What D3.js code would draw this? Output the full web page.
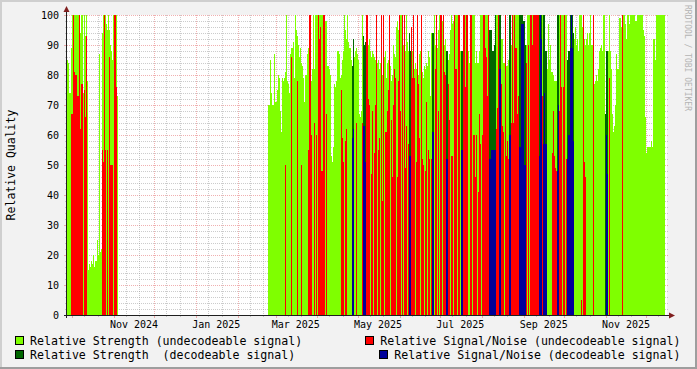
<!DOCTYPE html>
<html><head><meta charset="utf-8">
<script src="https://cdn.jsdelivr.net/npm/d3@7"></script>
<style>
html,body{margin:0;padding:0;background:#f2f2f2;overflow:hidden;}
svg{display:block;}
text{font-family:"DejaVu Sans Mono",monospace;}
</style></head><body>
<svg id="chart" width="697" height="369"></svg>
<script>
const n = null;
// ---- time base (RRD consolidation step ~ 17.8 h) ----
const tStart = Date.UTC(2024, 8, 27, 6, 43);
const tEnd = tStart + 445.13 * 864e5;
const stepMs = (tEnd - tStart) / 600;

// ---- burst A (autumn 2024), all undecodeable ----
const startA = tStart;
const strengthA = [85,84,74,74,89,100,100,100,100,100,100,100,100,94,100,100,74,100,93,100,78,15,17,16,18,17,20,16,18,18,25,20,87,21,22,94,100,100,100,97,95,100,95,90,88,85,100,100,100,100,73];
const snrA = [n,n,n,n,67,67,100,81,80,80,73,73,100,62,77,77,n,75,66,93,n,n,n,n,n,n,n,n,n,n,n,n,n,n,n,55,51,100,55,n,55,n,86,50,50,50,n,100,100,76,n];

// ---- burst B (2025) ----
const startB = tStart + 201 * stepMs;
const strengthB = [
70,70,85,74,70,70,87,71,71,75,80,79,68,61,79,78,79,81,100,78,77,74,87,89,89,91,79,100,95,93,90,86,89,84,83,79,71,80,80,87,
89,100,100,78,82,100,82,100,100,100,100,100,100,100,100,100,100,98,98,83,83,82,80,53,51,56,77,76,78,88,88,87,79,80,85,88,100,95,92,100,
91,89,89,85,83,92,86,88,89,87,85,67,66,68,100,93,90,91,100,100,90,92,88,86,88,87,86,85,84,84,85,82,84,83,80,90,86,88,79,84,
85,82,83,78,80,90,87,86,96,98,95,100,100,100,100,90,92,88,100,91,88,94,88,96,88,86,82,84,82,80,80,87,88,86,81,79,83,82,84,83,
88,86,73,94,94,94,100,90,88,89,95,100,100,100,98,100,90,92,88,88,85,87,95,100,97,98,100,100,100,100,100,100,88,88,88,100,100,100,100,100,
88,84,100,100,100,100,100,84,88,84,84,88,100,100,100,100,100,100,100,100,100,95,95,95,88,88,90,100,100,100,100,100,100,92,92,84,84,84,83,83,
85,100,100,90,100,100,100,100,100,100,100,100,100,100,100,98,98,90,90,100,100,100,100,100,100,100,100,100,100,100,100,100,100,100,100,100,100,88,88,82,
97,85,90,81,81,80,78,78,78,100,100,100,100,100,100,100,100,100,100,85,88,88,100,100,100,94,92,96,90,92,88,100,100,100,96,90,92,90,92,94,
90,94,100,90,90,84,77,78,80,78,82,88,89,90,88,100,100,67,88,88,88,100,88,82,67,61,63,70,87,82,82,99,99,96,95,100,100,97,92,100,
100,97,100,100,100,100,100,98,98,100,100,100,100,100,100,95,93,66,54,56,56,56,56,58,56,92,92,85,100,100,100,100,100,100,100,100,100];
const snrB = [
n,n,n,n,n,n,n,n,n,n,n,n,n,n,n,n,n,50,n,n,n,n,n,86,n,n,n,n,n,78,n,n,n,50,n,n,n,n,n,n,
55,100,100,60,n,n,64,n,60,n,100,92,96,48,48,100,100,n,67,n,n,n,n,n,n,n,n,n,n,n,n,n,n,75,59,51,n,58,62,n,
n,n,n,n,59,62,n,n,64,n,n,n,n,n,64,63,63,51,100,100,72,70,n,47,68,n,54,70,100,n,55,59,n,100,38,100,n,61,61,68,
75,100,n,65,46,70,82,79,n,46,78,100,68,n,100,n,100,49,63,n,57,53,53,96,79,100,79,n,51,100,77,59,n,100,52,50,n,48,71,n,
55,52,n,52,61,61,n,82,100,n,68,n,100,100,n,100,81,80,52,52,77,65,n,53,53,n,100,82,82,n,100,100,n,55,55,100,100,76,100,100,
n,n,100,100,n,60,60,46,60,n,41,67,57,n,60,100,100,89,86,73,100,52,52,55,55,55,55,55,62,69,100,82,82,77,63,61,n,100,53,58,
52,60,60,64,100,64,100,89,89,67,73,56,56,97,97,97,50,50,84,n,90,n,100,100,90,100,100,100,100,100,100,53,100,92,73,57,74,57,57,n,
n,n,n,n,54,68,53,49,48,48,70,68,100,76,n,76,100,n,52,52,60,60,89,100,89,58,n,n,n,n,n,n,n,5,n,100,51,46,n,n,
n,n,n,n,n,100,n,n,n,n,n,n,n,n,n,n,n,n,60,47,n,79,n,n,n,n,n,n,n,n,n,n,n,n,100,n,n,n,n,n,
n,n,n,n,n,n,n,n,n,n,n,n,n,n,n,n,n,n,n,n,n,n,n,n,n,n,n,n,n,n,n,n,n,n,n,n,n,n,n];
// sample offsets (within burst B) where the signal was decodeable
const decodedB = [84,85,95,96,97,141,142,164,165,178,179,193,194,221,222,223,224,225,226,227,231,232,241,242,251,252,253,254,255,256,257,271,272,273,275,276,277,278,289,290,299,300,301,302,303,304,305,337,338,339];

const yTicks = [0,10,20,30,40,50,60,70,80,90,100];
const xTickFmt = "%b %Y";
const legendItems = [
  {label:"Relative Strength (undecodeable signal)", color:"#7fff00"},
  {label:"Relative Signal/Noise (undecodeable signal)", color:"#ff0000"},
  {label:"Relative Strength  (decodeable signal)", color:"#006600"},
  {label:"Relative Signal/Noise (decodeable signal)", color:"#000099"}
];
const colors = {su:"#7fff00", nu:"#ff0000", sd:"#006600", nd:"#000099"};

// ---- geometry ----
const W = 697, H = 369, X0 = 67, X1 = 667, Y0 = 315, Y1 = 15;
const svg = d3.select("#chart");
const x = d3.scaleUtc().domain([tStart, tEnd]).range([X0, X1]);
const y = d3.scaleLinear().domain([0, 100]).range([Y0, Y1]);

svg.append("rect").attr("width", W).attr("height", H).attr("fill", "#f2f2f2");
svg.append("rect").attr("x", X0).attr("y", Y1).attr("width", X1 - X0).attr("height", Y0 - Y1).attr("fill", "#ffffff");

function samples(start, S, N, dec) {
  const dset = new Set(dec || []);
  return S.map((s, i) => ({t: start + i * stepMs, s, nv: N[i], d: dset.has(i)}));
}
const data = samples(startA, strengthA, snrA).concat(samples(startB, strengthB, snrB, decodedB));

// ---- grid (behind the data) ----
const grid = svg.append("g").attr("shape-rendering", "crispEdges");
const minorCol = "rgba(143,143,143,0.45)", majorCol = "rgba(222,79,79,0.45)";
d3.range(2, 101, 2).forEach(v => {
  const major = v % 10 === 0;
  const yy = y(v) + 0.5;
  grid.append("line").attr("x1", X0 - (major ? 3 : 2)).attr("x2", X0).attr("y1", yy).attr("y2", yy)
    .attr("stroke", major ? majorCol : minorCol);
  grid.append("line").attr("x1", X0).attr("x2", X1 + 1).attr("y1", yy).attr("y2", yy)
    .attr("stroke", major ? majorCol : minorCol).attr("stroke-dasharray", "1,1");
});
const months = d3.utcMonth.range(d3.utcMonth.ceil(tStart), tEnd);
const minorDays = [];
d3.utcMonth.range(d3.utcMonth.floor(tStart), tEnd).forEach(m => {
  [10, 20].forEach(dd => { const t = Date.UTC(m.getUTCFullYear(), m.getUTCMonth(), dd); if (t > tStart && t < tEnd) minorDays.push(t); });
});
minorDays.forEach(t => {
  const xx = Math.round(x(t)) + 0.5;
  grid.append("line").attr("x1", xx).attr("x2", xx).attr("y1", Y1).attr("y2", Y0).attr("stroke", minorCol).attr("stroke-dasharray", "1,1");
  grid.append("line").attr("x1", xx).attr("x2", xx).attr("y1", Y0).attr("y2", Y0 + 2).attr("stroke", minorCol);
});
months.forEach(t => {
  const xx = Math.round(x(t)) + 0.5;
  grid.append("line").attr("x1", xx).attr("x2", xx).attr("y1", Y1).attr("y2", Y0).attr("stroke", majorCol).attr("stroke-dasharray", "1,1");
  grid.append("line").attr("x1", xx).attr("x2", xx).attr("y1", Y0).attr("y2", Y0 + 3).attr("stroke", majorCol);
});

// ---- data ----
const plot = svg.append("g").attr("shape-rendering", "crispEdges");
function bars(key, colorFn) {
  plot.selectAll(null).data(data.filter(p => p[key] !== null && p[key] !== undefined)).enter().append("rect")
    .attr("x", p => Math.round(x(p.t)))
    .attr("width", p => Math.max(1, Math.round(x(p.t + stepMs)) - Math.round(x(p.t))))
    .attr("y", p => Math.round(y(p[key])))
    .attr("height", p => Y0 - Math.round(y(p[key])))
    .attr("fill", colorFn);
}
bars("s", p => p.d ? colors.sd : colors.su);
bars("nv", p => p.d ? colors.nd : colors.nu);

// ---- axes ----
const axisCol = "#1f1f1f", arrowCol = "#801f1f";
svg.append("line").attr("x1", X0 - 0.5).attr("x2", X0 - 0.5).attr("y1", Y0 + 3).attr("y2", Y1 - 5).attr("stroke", axisCol);
svg.append("line").attr("x1", X0 - 3).attr("x2", X1 + 4).attr("y1", Y0 + 0.5).attr("y2", Y0 + 0.5).attr("stroke", axisCol);
svg.append("path").attr("d", `M${X0-3.5},${Y1-3} L${X0+2.5},${Y1-3} L${X0-0.5},${Y1-9} Z`).attr("fill", arrowCol);
svg.append("path").attr("d", `M${X1+2},${Y0-2.5} L${X1+2},${Y0+3.5} L${X1+8},${Y0+0.5} Z`).attr("fill", arrowCol);

svg.append("g").selectAll("text").data(yTicks).enter().append("text")
  .attr("x", 59).attr("y", v => y(v) + 4).attr("text-anchor", "end")
  .attr("font-size", 10).attr("fill", "#000").text(v => v);
const fmt = d3.utcFormat(xTickFmt);
svg.append("g").selectAll("text").data(d3.utcMonth.every(2).range(d3.utcMonth.ceil(tStart), tEnd)).enter().append("text")
  .attr("x", t => x(+t + 15 * 864e5)).attr("y", 328).attr("text-anchor", "middle")
  .attr("font-size", 10).attr("fill", "#000").text(t => fmt(t));

svg.append("text").attr("transform", "translate(15,165) rotate(-90)").attr("text-anchor", "middle")
  .attr("font-size", 11.5).attr("fill", "#000").text("Relative Quality");
svg.append("text").attr("transform", "translate(685,5) rotate(90)").attr("text-anchor", "start")
  .attr("font-size", 8).attr("fill", "#b4b4b4").text("RRDTOOL / TOBI OETIKER");

const lg = svg.append("g");
const legPos = [
  {bx:15, by:336, tx:30, ty:345, anchor:"start"},
  {bx:365, by:336, tx:680.5, ty:345, anchor:"end"},
  {bx:15, by:350, tx:30, ty:359, anchor:"start"},
  {bx:379, by:350, tx:680.5, ty:359, anchor:"end"}
];
legendItems.forEach((it, i) => {
  const p = legPos[i];
  lg.append("rect").attr("x", p.bx + 0.5).attr("y", p.by + 0.5).attr("width", 8).attr("height", 8)
    .attr("fill", it.color).attr("stroke", "#000");
  lg.append("text").attr("x", p.tx).attr("y", p.ty).attr("text-anchor", p.anchor)
    .attr("font-size", 11.6).attr("fill", "#000").attr("xml:space", "preserve").style("white-space", "pre").text(it.label);
});

svg.append("rect").attr("x", 0).attr("y", 0).attr("width", W).attr("height", 2).attr("fill", "#cfcfcf");
svg.append("rect").attr("x", 0).attr("y", 0).attr("width", 2).attr("height", H).attr("fill", "#cfcfcf");
svg.append("rect").attr("x", 0).attr("y", H - 2).attr("width", W).attr("height", 2).attr("fill", "#9e9e9e");
svg.append("rect").attr("x", W - 2).attr("y", 0).attr("width", 2).attr("height", H).attr("fill", "#9e9e9e");
</script></body></html>
